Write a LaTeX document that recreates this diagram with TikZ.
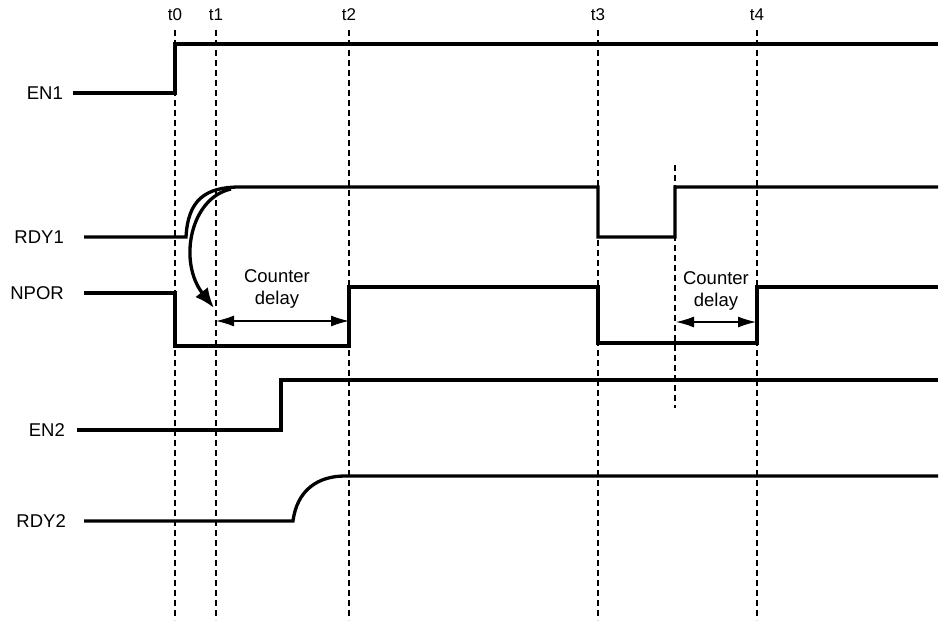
\documentclass[tikz,border=0pt]{standalone}
\usepackage{fontspec}
\setmainfont{Liberation Sans}
\usetikzlibrary{arrows.meta}
\begin{document}
\begin{tikzpicture}[x=1pt,y=-1pt,
  sigline/.style={line width=3.3pt,line join=miter},
  gridline/.style={line width=1.1pt,dash pattern=on 6pt off 4pt},
  lbl/.style={anchor=east,inner sep=0pt,font=\fontsize{18.5}{20}\selectfont},
  tlbl/.style={inner sep=0pt,font=\fontsize{17}{19}\selectfont},
  cdtext/.style={inner sep=0pt,font=\fontsize{18.5}{22}\selectfont,align=center},
  dly/.style={line width=1.2pt,{Latex[length=18pt,width=11pt]}-{Latex[length=18pt,width=11pt]}},
  bendarrow/.style={line width=3.3pt,-{Latex[length=20pt,width=16pt]}}]
\useasboundingbox (0,0) rectangle (945,626);
% time markers
\foreach \n/\x in {t0/175,t1/216,t2/349,t3/598,t4/757}{
  \node[tlbl] (\n) at (\x,15) {\n};
  \coordinate (\n b) at (\x,620);
  \draw[gridline] (\x,30) -- (\n b);
}
\coordinate (mA) at (675,165);
\coordinate (mB) at (675,408);
\draw[gridline] (mA) -- (mB);
% labels
\node[lbl] (en1) at (63,93) {EN1};
\node[lbl] (rdy1) at (64,237) {RDY1};
\node[lbl] (npor) at (64,293) {NPOR};
\node[lbl] (en2) at (65,430) {EN2};
\node[lbl] (rdy2) at (66,521) {RDY2};
% EN1
\draw[sigline] (73,93) -- (175,93) -- (175,44) -- (938,44);
% RDY1
\draw[sigline] (84,237) -- (186,237) .. controls (188,200) and (205,187) .. (240,187)
  -- (598,187) -- (598,237) -- (675,237) -- (675,187) -- (938,187);
% NPOR
\draw[sigline] (84,293) -- (175,293) -- (175,346) -- (349,346) -- (349,287)
  -- (598,287) -- (598,343) -- (757,343) -- (757,287) -- (938,287);
% EN2
\draw[sigline] (77,430) -- (281,430) -- (281,380) -- (938,380);
% RDY2
\draw[sigline] (84,521) -- (293,521) .. controls (297,490) and (318,476) .. (345,476) -- (938,476);
% curved arrow
\coordinate (cs) at (231,189);
\coordinate (ce) at (214,308);
\draw[bendarrow] (cs) .. controls (190,198) and (178,262) .. (ce);
% counter delays
\node[cdtext] (c1) at (277,289) {Counter\\delay};
\draw[dly] (216,321) -- (349,321);
\node[cdtext] (c2) at (716,291) {Counter\\delay};
\draw[dly] (676,322) -- (756,322);
\end{tikzpicture}
\end{document}
